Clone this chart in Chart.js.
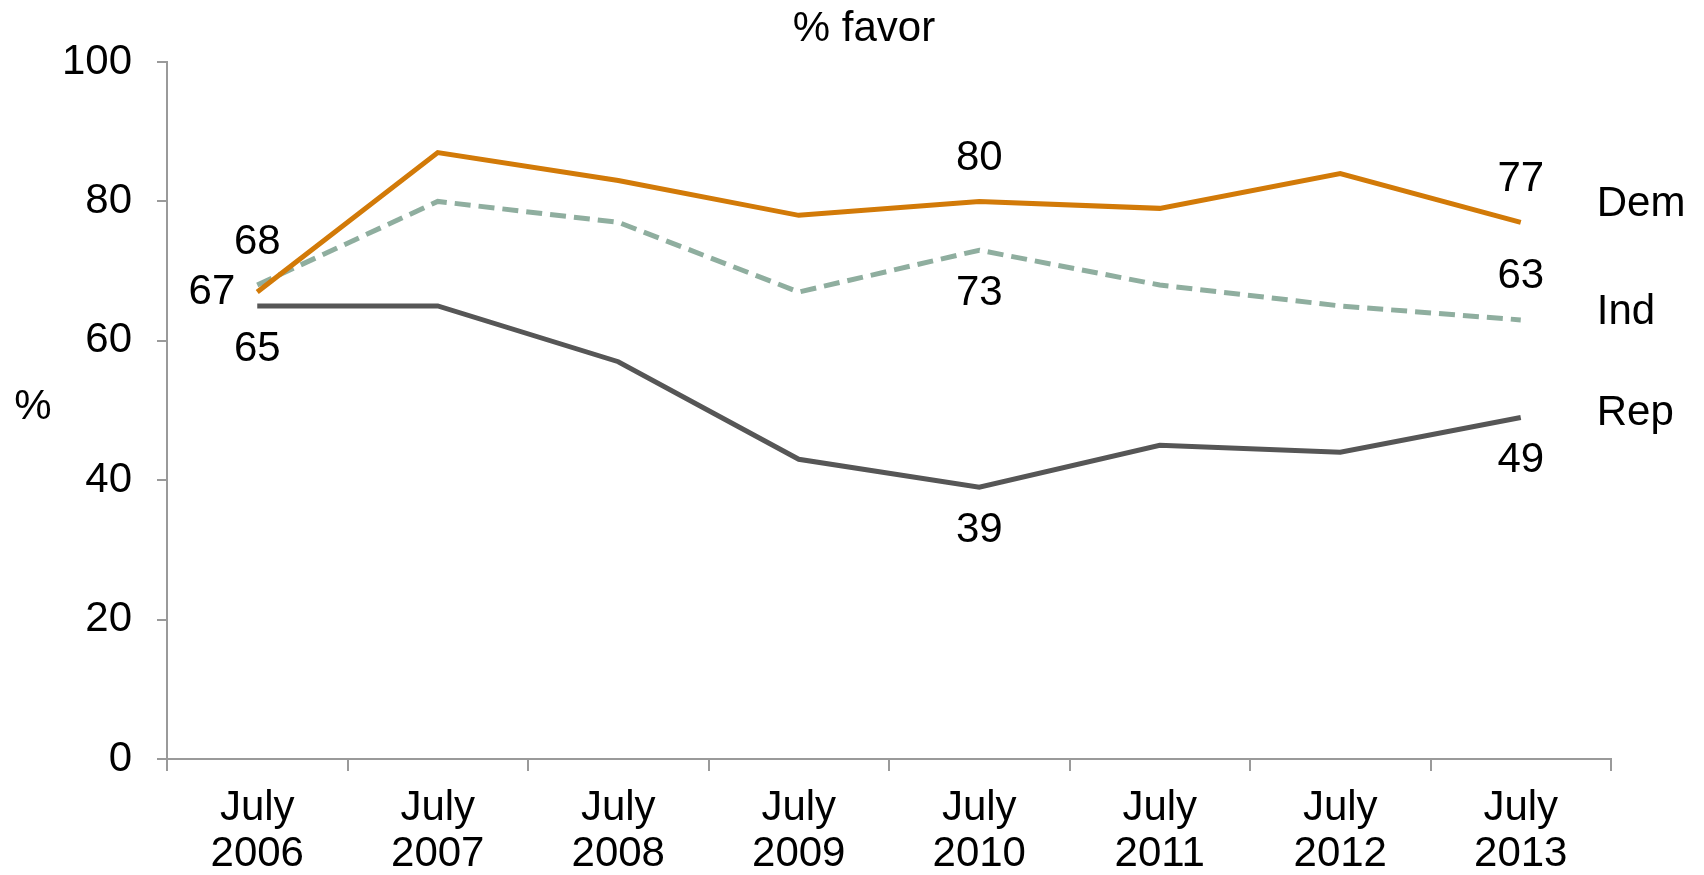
<!DOCTYPE html>
<html>
<head>
<meta charset="utf-8">
<script src="https://cdn.jsdelivr.net/npm/chart.js@4/dist/chart.umd.min.js"></script>
<style>
  html, body { margin: 0; padding: 0; background: #fff; }
  #wrap { width: 1704px; height: 875px; position: relative; }
</style>
</head>
<body>
<div id="wrap"><canvas id="favorChart"></canvas></div>
<script>
// Data
const years = [['July', '2006'], ['July', '2007'], ['July', '2008'], ['July', '2009'],
  ['July', '2010'], ['July', '2011'], ['July', '2012'], ['July', '2013']];
const demValues = [67, 87, 83, 78, 80, 79, 84, 77];
const indValues = [68, 80, 77, 67, 73, 68, 65, 63];
const repValues = [65, 65, 57, 43, 39, 45, 44, 49];
const yTicks = [0, 20, 40, 60, 80, 100];

// which points carry a number, and on which side
const demLabels = { 0: 'left', 4: 'above', 7: 'above' };
const indLabels = { 0: 'above', 4: 'below', 7: 'above' };
const repLabels = { 0: 'below', 4: 'below', 7: 'below' };

const FONT = '"Liberation Sans", Arial, sans-serif';
const FONT_SIZE = 42;

const annotations = {
  id: 'annotations',
  afterDatasetsDraw(chart) {
    const { ctx, scales: { x, y }, chartArea } = chart;
    ctx.save();
    ctx.fillStyle = '#000';
    ctx.font = `${FONT_SIZE}px ${FONT}`;
    ctx.textBaseline = 'middle';

    // point numbers
    chart.data.datasets.forEach(ds => {
      Object.entries(ds.pointLabels).forEach(([i, side]) => {
        const px = x.getPixelForValue(Number(i));
        const py = y.getPixelForValue(ds.data[i]);
        if (side === 'left') {
          ctx.textAlign = 'right';
          ctx.fillText(String(ds.data[i]), px - 22, py);
        } else {
          ctx.textAlign = 'center';
          ctx.fillText(String(ds.data[i]), px, side === 'above' ? py - 43 : py + 43);
        }
      });

      // series name to the right of the last point
      const last = ds.data.length - 1;
      ctx.textAlign = 'left';
      ctx.fillText(ds.label, x.getPixelForValue(last) + 76, y.getPixelForValue(ds.data[last]) + ds.nameShift);
    });

    // title and axis title
    ctx.textAlign = 'center';
    ctx.fillText('% favor', 864, 29);
    ctx.fillText('%', 33, (chartArea.top + chartArea.bottom) / 2 - 3);
    ctx.restore();
  }
};

new Chart(document.getElementById('favorChart'), {
  type: 'line',
  data: {
    labels: years,
    datasets: [
      { label: 'Dem', data: demValues, borderColor: '#D27A08', borderWidth: 5,
        pointLabels: demLabels, nameShift: -18 },
      { label: 'Ind', data: indValues, borderColor: '#8FAE9F', borderWidth: 5,
        borderDash: [16, 8], pointLabels: indLabels, nameShift: -7 },
      { label: 'Rep', data: repValues, borderColor: '#565656', borderWidth: 5,
        pointLabels: repLabels, nameShift: -4 }
    ]
  },
  options: {
    responsive: true,
    maintainAspectRatio: false,
    animation: false,
    layout: { padding: { top: 62, right: 93, left: 0, bottom: 0 } },
    elements: {
      point: { radius: 0, hoverRadius: 0 },
      line: { tension: 0, borderJoinStyle: 'miter' }
    },
    plugins: {
      legend: { display: false },
      tooltip: { enabled: false }
    },
    scales: {
      x: {
        offset: true,
        grid: { offset: true, drawOnChartArea: false, drawTicks: true, tickLength: 12, color: '#9a9a9a', lineWidth: 2 },
        border: { color: '#9a9a9a', width: 2 },
        ticks: { color: '#000', font: { family: FONT, size: FONT_SIZE, lineHeight: 1.1 }, padding: 14, maxRotation: 0, autoSkip: false },
        afterFit: (scale) => { scale.height = 116; }
      },
      y: {
        min: 0,
        max: 100,
        afterBuildTicks: (scale) => { scale.ticks = yTicks.map(v => ({ value: v })); },
        grid: { drawOnChartArea: false, drawTicks: true, tickLength: 10, color: '#9a9a9a', lineWidth: 2 },
        border: { color: '#9a9a9a', width: 2 },
        ticks: { color: '#000', font: { family: FONT, size: FONT_SIZE }, padding: 25 },
        afterFit: (scale) => { scale.width = 167; }
      }
    }
  },
  plugins: [annotations]
});
</script>
</body>
</html>
